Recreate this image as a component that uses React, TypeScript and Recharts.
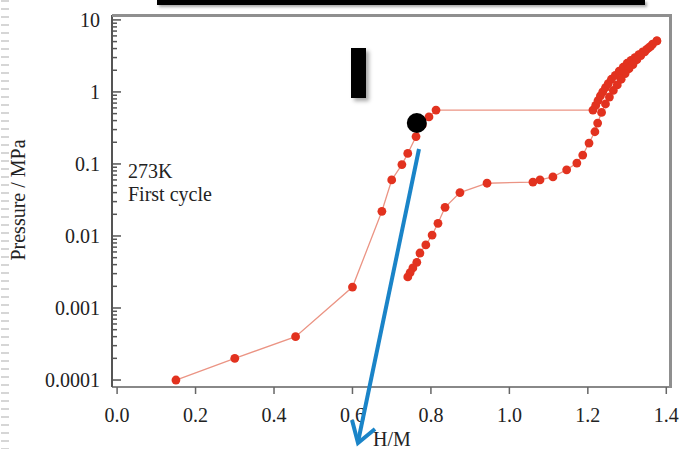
import React from 'react';
import { ScatterChart, Scatter, XAxis, YAxis } from 'recharts';

// H/M vs pressure (MPa), 273K first cycle
const absorptionX = [
  0.15, 0.3, 0.455, 0.6, 0.675, 0.7, 0.726, 0.741, 0.762, 0.778, 0.795, 0.813,
  1.213, 1.22, 1.226, 1.232, 1.238, 1.245, 1.252, 1.26, 1.27, 1.28, 1.29, 1.3,
  1.31, 1.32, 1.33, 1.34, 1.35, 1.36, 1.376,
];
const absorptionY = [
  0.0001, 0.0002, 0.0004, 0.00195, 0.022, 0.06, 0.098, 0.14, 0.24, 0.35, 0.45, 0.56,
  0.56, 0.65, 0.76, 0.88, 1.0, 1.15, 1.3, 1.5, 1.7, 1.95, 2.2, 2.5,
  2.75, 3.0, 3.3, 3.6, 3.9, 4.3, 5.1,
];

const desorptionX = [
  1.376, 1.365, 1.355, 1.345, 1.335, 1.325, 1.315, 1.305, 1.295, 1.285, 1.275,
  1.265, 1.255, 1.245, 1.235, 1.225, 1.218, 1.203, 1.187, 1.172, 1.146, 1.111,
  1.078, 1.06, 0.943, 0.874, 0.836, 0.818, 0.803, 0.787, 0.772, 0.764, 0.754,
  0.747, 0.741,
];
const desorptionY = [
  5.1, 4.6, 4.1, 3.6, 3.2, 2.8, 2.4, 2.1, 1.8, 1.5, 1.25,
  1.05, 0.85, 0.68, 0.52, 0.37, 0.28, 0.195, 0.133, 0.103, 0.083, 0.066,
  0.06, 0.056, 0.054, 0.04, 0.025, 0.015, 0.0103, 0.0075, 0.0058, 0.0043, 0.0036,
  0.0031, 0.0027,
];

const markerX = [0.764];
const markerY = [0.37];

const xDomain = [-0.013, 1.412];
const yDomain = [0.00008, 11.7];
const xTicks = [0, 0.2, 0.4, 0.6, 0.8, 1.0, 1.2, 1.4];
const yMajor = [0.0001, 0.001, 0.01, 0.1, 1, 10];
const yLabels = ['0.0001', '0.001', '0.01', '0.1', '1', '10'];

const toPoints = (xs: number[], ys: number[]) => xs.map((x, i) => ({ x, y: ys[i] }));
const absorption = toPoints(absorptionX, absorptionY);
const desorption = toPoints(desorptionX, desorptionY);
const marker = toPoints(markerX, markerY);

const yMinor: number[] = [];
yMajor.slice(0, -1).forEach((d) => {
  for (let k = 2; k <= 9; k++) yMinor.push(d * k);
});
const yTicks = [...yMajor, ...yMinor].sort((a, b) => a - b);

const serif = '"Liberation Serif", "DejaVu Serif", serif';
const red = '#e2321f';
const lineColor = '#eb9484';

const YTick = (props: any) => {
  const { x, y, payload } = props;
  const idx = yMajor.indexOf(payload.value);
  const major = idx >= 0;
  return (
    <g>
      <line x1={x} x2={x + (major ? 9 : 5)} y1={y} y2={y} stroke="#555" strokeWidth={1.5} />
      {major && (
        <text x={x - 12} y={y} dy="0.35em" textAnchor="end" fontFamily={serif} fontSize={20} fill="#222">
          {yLabels[idx]}
        </text>
      )}
    </g>
  );
};

const Dot = (props: any) => <circle cx={props.cx} cy={props.cy} r={4.4} fill={red} />;
const BigDot = (props: any) => <circle cx={props.cx} cy={props.cy} r={10} fill="#000" />;

export default function App() {
  return (
    <div style={{ position: 'absolute', left: 0, top: 0, width: 681, height: 449, background: '#fff', overflow: 'hidden' }}>
      <div
        style={{
          position: 'absolute',
          left: 1,
          top: 0,
          width: 8,
          height: 449,
          backgroundImage: 'repeating-linear-gradient(to bottom, #d6d6d6 0px, #d6d6d6 2px, transparent 2px, transparent 8px)',
        }}
      />
      <ScatterChart
        width={681}
        height={449}
        margin={{ top: 15, right: 10, bottom: 0, left: 0 }}
        style={{ position: 'absolute', left: 0, top: 0 }}
      >
        <XAxis
          type="number"
          dataKey="x"
          domain={xDomain}
          ticks={xTicks}
          interval={0}
          allowDataOverflow
          height={62}
          tickSize={7}
          tickMargin={14}
          axisLine={{ stroke: '#888', strokeWidth: 2 }}
          tickLine={{ stroke: '#666', strokeWidth: 1.5 }}
          tick={{ fontFamily: serif, fontSize: 20, fill: '#222' }}
          tickFormatter={(v: number) => v.toFixed(1)}
        />
        <YAxis
          type="number"
          dataKey="y"
          scale="log"
          domain={yDomain}
          ticks={yTicks}
          interval={0}
          allowDataOverflow
          width={112}
          tickSize={0}
          tickMargin={0}
          tickLine={false}
          axisLine={{ stroke: '#555', strokeWidth: 2 }}
          tick={<YTick />}
        />
        <Scatter
          data={absorption}
          line={{ stroke: lineColor, strokeWidth: 1.3 }}
          shape={<Dot />}
          isAnimationActive={false}
        />
        <Scatter
          data={desorption}
          line={{ stroke: lineColor, strokeWidth: 1.3 }}
          shape={<Dot />}
          isAnimationActive={false}
        />
        <Scatter data={marker} shape={<BigDot />} isAnimationActive={false} />
      </ScatterChart>

      {/* plot frame, top and right edges */}
      <div style={{ position: 'absolute', left: 112, top: 14, width: 560, height: 3, background: '#8f8f8f' }} />
      <div style={{ position: 'absolute', left: 669, top: 14, width: 3, height: 374, background: '#8f8f8f' }} />

      <div style={{ position: 'absolute', left: 157, top: 0, width: 488, height: 5, background: '#000', boxShadow: '2px 2px 3px rgba(0,0,0,0.35)' }} />
      <div style={{ position: 'absolute', left: 351, top: 48, width: 15, height: 50, background: '#000', boxShadow: '3px 3px 4px rgba(0,0,0,0.35)' }} />

      <div style={{ position: 'absolute', left: 128, top: 160, fontFamily: serif, fontSize: 20, lineHeight: '23px', color: '#222' }}>
        273K
        <br />
        First cycle
      </div>
      <div
        style={{
          position: 'absolute',
          left: 18,
          top: 200,
          transform: 'translate(-50%, -50%) rotate(-90deg)',
          whiteSpace: 'nowrap',
          fontFamily: serif,
          fontSize: 20,
          color: '#222',
        }}
      >
        Pressure / MPa
      </div>
      <div style={{ position: 'absolute', left: 373, top: 428, fontFamily: serif, fontSize: 20, color: '#222' }}>H/M</div>

      <svg width={681} height={449} style={{ position: 'absolute', left: 0, top: 0, pointerEvents: 'none' }}>
        <line x1={419} y1={149} x2={358} y2={442} stroke="#1a84c8" strokeWidth={4} />
        <polyline points="352,420 358,443 375,429" fill="none" stroke="#1a84c8" strokeWidth={4} strokeLinejoin="miter" />
      </svg>
    </div>
  );
}
